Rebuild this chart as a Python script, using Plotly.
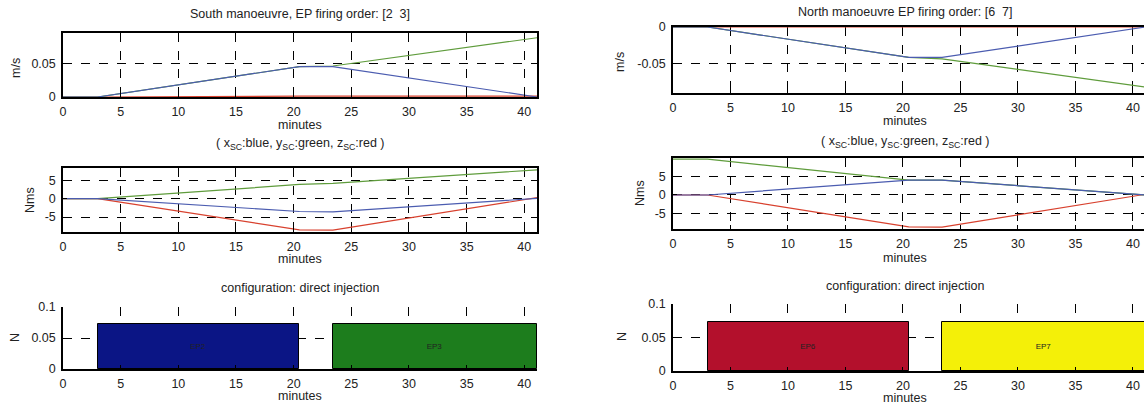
import plotly.graph_objects as go

W, H = 1144, 407

# ---------------- data ----------------
t = [0, 3, 20.5, 23.4, 41.1]            # minutes (breakpoints)

# South manoeuvre, delta-v (m/s)
s_vx = [0, 0, 0.045, 0.045, 0.0]
s_vy = [0, 0, 0.045, 0.046, 0.088]
s_vz = [0, 0, 0.0012, 0.0012, 0.0012]
# South manoeuvre, momentum (Nms)
s_hx = [0, 0, -3.5, -3.6, 0.1]
s_hy = [0, 0, 3.9, 4.2, 7.9]
s_hz = [0, 0, -8.5, -8.6, 0.3]

# North manoeuvre, delta-v (m/s)
n_vx = [0, 0, -0.042, -0.042, 0.0]
n_vy = [0, 0, -0.042, -0.044, -0.083]
n_vz = [0, 0, 0, 0, 0]
# North manoeuvre, momentum (Nms)
n_hx = [0, 0, 4.0, 4.0, 0.0]
n_hy = [9.7, 9.7, 4.0, 4.0, 0.0]
n_hz = [0, 0, -8.6, -8.7, 0.2]

# thruster firings
s_names = ["EP2", "EP3"]
n_names = ["EP6", "EP7"]
fire_start = [3.0, 23.4]
fire_end = [20.5, 41.1]
s_thrust = [0.0725, 0.0725]
n_thrust = [0.0735, 0.0735]
s_colors = ["#0b1585", "#1d7d1d"]
n_colors = ["#b3102c", "#f4f008"]

xticks = [0, 5, 10, 15, 20, 25, 30, 35, 40]

# --------------- layout helpers ---------------
def xd(x0, x1):
    return [x0 / W, min(x1 / W, 1.0)]

def yd(y0, y1):
    return [1 - y1 / H, 1 - y0 / H]

FONT = "Liberation Sans, Arial, sans-serif"
BLUE, GREEN, RED = "#4b5cb0", "#5f9c3c", "#d8412e"
TF = dict(size=12.5, family=FONT, color="#222")

fig = go.Figure()

def lines(ax, xs, series):
    for ys, c in series:
        fig.add_trace(go.Scatter(x=xs, y=ys, mode="lines", line=dict(color=c, width=1.2),
                                 xaxis="x" + ax, yaxis="y" + ax, showlegend=False,
                                 hoverinfo="skip"))

lines("", t, [(s_vz, RED), (s_vy, GREEN), (s_vx, BLUE)])
lines("2", t, [(n_vz, RED), (n_vy, GREEN), (n_vx, BLUE)])
lines("3", t, [(s_hz, RED), (s_hy, GREEN), (s_hx, BLUE)])
lines("4", t, [(n_hz, RED), (n_hy, GREEN), (n_hx, BLUE)])

def bars(ax, names, thrust, colors):
    centers = [(a + b) / 2 for a, b in zip(fire_start, fire_end)]
    widths = [b - a for a, b in zip(fire_start, fire_end)]
    fig.add_trace(go.Bar(x=centers, y=thrust, width=widths,
                         marker=dict(color=colors, line=dict(color="black", width=1)),
                         text=names, textposition="inside", insidetextanchor="middle",
                         textfont=dict(size=8, color="#222222", family=FONT),
                         xaxis="x" + ax, yaxis="y" + ax, showlegend=False, hoverinfo="skip"))

bars("5", s_names, s_thrust, s_colors)
bars("6", n_names, n_thrust, n_colors)

def common(box):
    return dict(ticks="inside", ticklen=4, tickcolor="black", showline=True, linecolor="black",
                linewidth=1.5, mirror=box, showgrid=True, gridcolor="black", griddash="dash",
                gridwidth=0.8, zeroline=False, tickfont=TF, fixedrange=True, automargin=False)

def xaxis(dom, rng, anchor, box=True):
    return dict(domain=dom, range=rng, anchor=anchor, tickvals=xticks, ticklabelstandoff=2,
                **common(box))

def yaxis(dom, rng, anchor, tv, tt, box=True):
    return dict(domain=dom, range=rng, anchor=anchor, tickvals=tv, ticktext=tt,
                ticklabelstandoff=3, **common(box))

LX = xd(63, 537)
RX = xd(673, 1144)
LR = [0, 41.1]
RR = [0, 40.96]

fig.update_layout(
    xaxis=xaxis(LX, LR, "y"), yaxis=yaxis(yd(33, 97), [0, 0.095], "x", [0, 0.05], ["0", "0.05"]),
    xaxis2=xaxis(RX, RR, "y2"), yaxis2=yaxis(yd(27, 93), [-0.091, 0], "x2", [-0.05, 0], ["-0.05", "0"]),
    xaxis3=xaxis(LX, LR, "y3"), yaxis3=yaxis(yd(168, 232), [-9.1, 8.4], "x3", [-5, 0, 5], ["-5", "0", "5"]),
    xaxis4=xaxis(RX, RR, "y4"), yaxis4=yaxis(yd(158, 229), [-9.2, 10.0], "x4", [-5, 0, 5], ["-5", "0", "5"]),
    xaxis5=xaxis(LX, LR, "y5", box=False), yaxis5=yaxis(yd(307, 369), [0, 0.1], "x5", [0, 0.05, 0.1], ["0", "0.05", "0.1"], box=False),
    xaxis6=xaxis(RX, RR, "y6", box=False), yaxis6=yaxis(yd(304, 371), [0, 0.1], "x6", [0, 0.05, 0.1], ["0", "0.05", "0.1"], box=False),
    width=W, height=H, margin=dict(l=0, r=0, t=0, b=0, autoexpand=False),
    paper_bgcolor="white", plot_bgcolor="white", bargap=0,
    font=dict(family=FONT, size=12.5, color="#222"),
)

def txt(x, y, s, size=12.5, angle=0):
    fig.add_annotation(x=x / W, y=1 - y / H, xref="paper", yref="paper", text=s, showarrow=False,
                       font=dict(size=size, family=FONT, color="#222"), textangle=angle,
                       xanchor="center", yanchor="middle")

sub = "( x<sub>SC</sub>:blue, y<sub>SC</sub>:green, z<sub>SC</sub>:red )"
# left column
txt(300, 14, "South manoeuvre, EP firing order: [2  3]")
txt(300, 125, "minutes")
txt(300, 144, sub)
txt(300, 259, "minutes")
txt(300, 288, "configuration: direct injection")
txt(300, 396, "minutes")
txt(16, 68, "m/s", angle=-90)
txt(30, 200, "Nms", angle=-90)
txt(15, 338, "N", angle=-90)
# right column
txt(905, 12, "North manoeuvre EP firing order: [6  7]")
txt(905, 121, "minutes")
txt(905, 142, sub)
txt(905, 258, "minutes")
txt(905, 286, "configuration: direct injection")
txt(905, 398, "minutes")
txt(620, 62, "m/s", angle=-90)
txt(640, 193, "Nms", angle=-90)
txt(622, 337, "N", angle=-90)

fig.write_html("out.html", config={"displayModeBar": False},
               post_script="document.body.style.margin='0px';document.body.style.overflow='hidden';")
